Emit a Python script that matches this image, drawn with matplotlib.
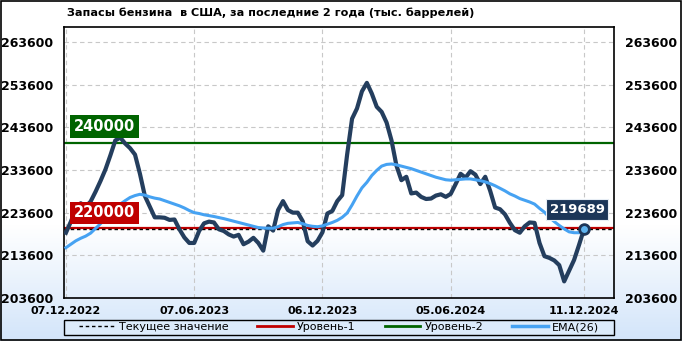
import numpy as np
import matplotlib
matplotlib.use("Agg")
import matplotlib.pyplot as plt
from matplotlib.colors import LinearSegmentedColormap

title = "Запасы бензина  в США, за последние 2 года (тыс. баррелей)"

# weekly stocks, thousand barrels
stocks = [
    218900, 221500, 224500, 225800, 225000, 226200, 228500, 231000, 233700, 237000,
    240500, 241200, 239800, 238700, 237200, 232700, 227500, 225000, 222500, 222500,
    222400, 221900, 222000, 219700, 217800, 216500, 216500, 219300, 221100, 221500,
    221300, 219700, 219300, 218500, 218000, 218400, 216200, 216800, 217700, 216500,
    214700, 220400, 219400, 224200, 226300, 224200, 223600, 223600, 221600, 216900,
    215900, 217000, 219000, 223400, 224000, 226300, 227700, 237200, 245600, 248000,
    252000, 254000, 251500, 248400, 247200, 244700, 240500, 234600, 231200, 232000,
    228100, 228300, 227300, 226800, 226900, 227600, 227900, 227300, 228000, 230300,
    232700, 231800, 233300, 232500, 230300, 232000, 228700, 224800, 224400, 223200,
    221200, 219500, 218900, 220400, 221300, 221200, 216500, 213400, 213000, 212400,
    211300, 207500, 210000, 212500, 216000, 219689,
]

ema26 = [
    215400, 216200, 217000, 217600, 218100, 218800, 219900, 221000, 222200, 223300,
    224500, 225600, 226400, 227150, 227600, 227900, 227700, 227300, 227000, 226800,
    226400, 226000, 225600, 225200, 224700, 224100, 223600, 223400, 223100, 222900,
    222700, 222450, 222200, 221900, 221600, 221300, 221000, 220700, 220400, 220100,
    220000, 219950, 219950, 220300, 220800, 221100, 221200, 221300, 221000, 220600,
    220400, 220300, 220500, 220900, 221300, 221800, 222500, 223500, 225400, 227500,
    229400, 230700, 232300, 233500, 234500, 234900, 235000, 234800, 234500, 234200,
    233900, 233500, 233100, 232700, 232300, 231900, 231600, 231300, 231200, 231300,
    231400, 231500, 231500, 231300, 231100, 230800, 230400, 229900, 229300, 228700,
    228000, 227500, 226900, 226500, 226100, 225600, 224600, 223700, 222500, 221500,
    220600, 219800, 219100, 218900, 218900, 218900,
]

level1 = 220000
level2 = 240000
current = 219689

date_ticks = [0, 26, 52, 78, 105]
date_labels = ["07.12.2022", "07.06.2023", "06.12.2023", "05.06.2024", "11.12.2024"]
y_ticks = [203600, 213600, 223600, 233600, 243600, 253600, 263600]

fig = plt.figure(figsize=(6.82, 3.41), dpi=100)

# background gradient: white on top, light blue at bottom
bg = fig.add_axes([0, 0, 1, 1], zorder=-10)
bg.axis("off")
grad = np.linspace(0, 1, 341)
grad = np.clip((grad - 0.66) / 0.34, 0, 1)[:, None]
cmap = LinearSegmentedColormap.from_list("bg", ["#ffffff", "#d3e5fa"])
bg.imshow(grad, aspect="auto", cmap=cmap, extent=[0, 1, 0, 1], origin="upper")
bg.set_xlim(0, 1)
bg.set_ylim(0, 1)
bg.add_patch(plt.Rectangle((0.001, 0.002), 0.997, 0.995, fill=False,
                           edgecolor="black", linewidth=1.2, transform=bg.transAxes))
# legend frame
bg.add_patch(plt.Rectangle((64 / 682, 1 - 335 / 341), 550 / 682, 15 / 341,
                           facecolor="#dcebfb", edgecolor="black", linewidth=1,
                           transform=bg.transAxes))

ax = fig.add_axes([0.0938, 0.126, 0.8065, 0.795])
ax.set_facecolor("none")

x = np.arange(len(stocks))
ax.axhline(current, color="black", linestyle=(0, (2.5, 2)), linewidth=1.0, zorder=3)
ax.axhline(level1, color="#c00000", linewidth=1.6, zorder=2)
ax.axhline(level2, color="#006400", linewidth=1.6, zorder=2)
ax.plot(x, stocks, color="#243e5e", linewidth=3.0, solid_joinstyle="round", zorder=4)
ax.plot(x, ema26, color="#46a2f2", linewidth=2.2, zorder=5)
ax.plot(x[-1], stocks[-1], "o", markersize=7, markerfacecolor="#5fb3ee",
        markeredgecolor="#1d3557", markeredgewidth=2, zorder=6)

ax.set_xlim(-0.4, 111.1)
ax.set_ylim(203600, 267100)
ax.set_yticks(y_ticks)
ax.set_yticklabels([str(v) for v in y_ticks], fontweight="bold", fontsize=9)
ax.set_xticks(date_ticks)
ax.set_xticklabels(date_labels, fontweight="bold", fontsize=8)
ax.tick_params(axis="both", length=0)
ax.tick_params(axis="y", labelright=True, pad=8)
ax.tick_params(axis="x", pad=6)
ax.grid(True, color="#c8c8c8", linestyle=(0, (4, 3)), linewidth=0.8)
for s in ax.spines.values():
    s.set_linewidth(1.2)
    s.set_color("black")

# level labels
ax.text(1.6, level2 + 3800, str(level2), color="white", fontsize=10.5, fontweight="bold",
        ha="left", va="center", zorder=7,
        bbox=dict(boxstyle="square,pad=0.25", facecolor="#006400", edgecolor="none"))
ax.text(1.6, level1 + 3600, str(level1), color="white", fontsize=10.5, fontweight="bold",
        ha="left", va="center", zorder=7,
        bbox=dict(boxstyle="square,pad=0.25", facecolor="#c00000", edgecolor="none"))
ax.text(x[-1] - 1.4, current + 4600, str(current), color="white", fontsize=9.5,
        fontweight="bold", ha="center", va="center", zorder=7,
        bbox=dict(boxstyle="square,pad=0.3", facecolor="#1c3658", edgecolor="#e8eef5",
                  linewidth=0.8))

fig.text(0.098, 0.962, title, fontsize=8.1, fontweight="bold", ha="left", va="center")

handles = [
    plt.Line2D([], [], color="black", linestyle=(0, (2.5, 2)), linewidth=1),
    plt.Line2D([], [], color="#c00000", linewidth=2),
    plt.Line2D([], [], color="#006400", linewidth=2),
    plt.Line2D([], [], color="#46a2f2", linewidth=2.5),
]
labels = ["Текущее значение", "Уровень-1", "Уровень-2", "EMA(26)"]
fig.legend(handles, labels, ncol=4, loc="center",
           bbox_to_anchor=(0.497, 0.04, 0.0, 0.0), fontsize=8,
           frameon=False, handlelength=3.2,
           columnspacing=2.6, handletextpad=0.4, borderpad=0.2)

fig.savefig("out.png", dpi=100)
